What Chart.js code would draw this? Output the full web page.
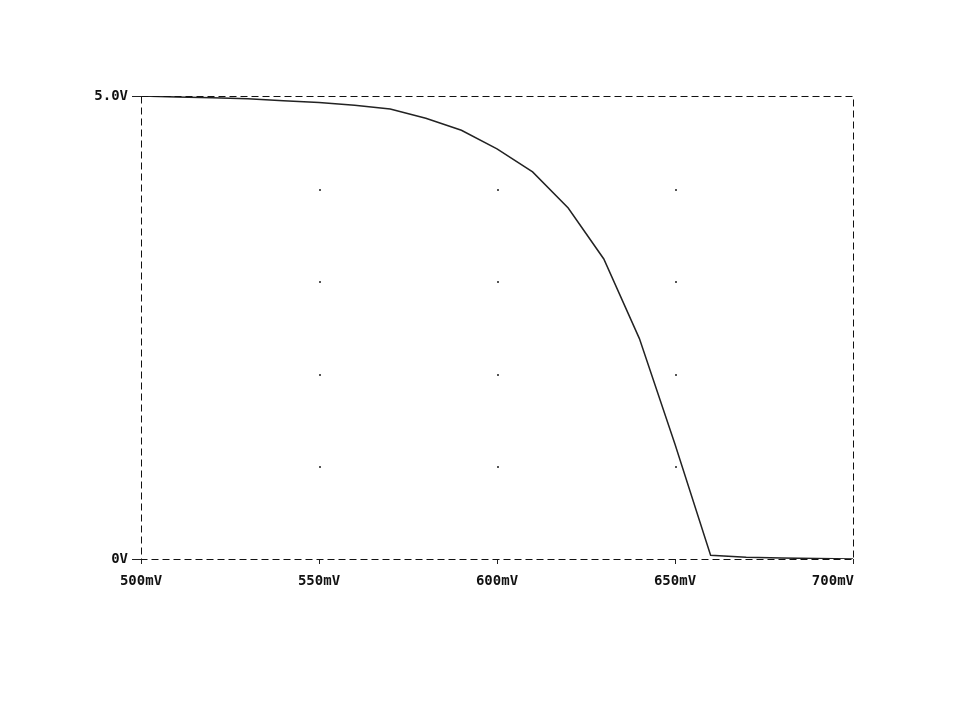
<!DOCTYPE html>
<html>
<head>
<meta charset="utf-8">
<script src="https://cdn.jsdelivr.net/npm/chart.js@4"></script>
<style>
  html, body { margin: 0; padding: 0; background: #fff; }
  #wrap { width: 960px; height: 720px; }
</style>
</head>
<body>
<div id="wrap"><canvas id="vout"></canvas></div>
<script>
// input voltage (mV) and output voltage (V)
const vin = [500, 510, 520, 530, 540, 550, 560, 570, 580, 590, 600, 610, 620, 630, 640, 650, 660, 670, 680, 690, 700];
const vout = [5.0, 4.99, 4.98, 4.97, 4.95, 4.93, 4.90, 4.86, 4.76, 4.63, 4.43, 4.18, 3.79, 3.24, 2.38, 1.24, 0.04, 0.02, 0.01, 0.005, 0.0];
const xTicks = [500, 550, 600, 650, 700];
const yLabels = { 0: '0V', 5: '5.0V' };

const font = { family: 'DejaVu Sans Mono', size: 14, weight: 'bold' };

// dashed frame, dotted grid at tick crossings, last x label pulled inside
const frame = {
  id: 'frame',
  afterDatasetsDraw(chart) {
    const { ctx, chartArea: a, scales } = chart;
    ctx.save();
    ctx.strokeStyle = '#111';
    ctx.lineWidth = 1;
    ctx.setLineDash([7, 4]);
    ctx.strokeRect(a.left + 0.5, a.top + 0.5, a.right - a.left, a.bottom - a.top);
    ctx.setLineDash([]);
    ctx.fillStyle = '#555';
    scales.x.ticks.forEach(tx => {
      if (tx.value <= 500 || tx.value >= 700) return;
      scales.y.ticks.forEach(ty => {
        if (ty.value <= 0 || ty.value >= 5) return;
        const px = scales.x.getPixelForValue(tx.value);
        const py = scales.y.getPixelForValue(ty.value);
        ctx.fillRect(Math.round(px), Math.round(py), 2, 2);
      });
    });
    const last = xTicks[xTicks.length - 1];
    ctx.font = 'bold 14px "DejaVu Sans Mono"';
    ctx.fillStyle = '#111';
    ctx.textAlign = 'right';
    ctx.textBaseline = 'top';
    ctx.fillText(last + 'mV', scales.x.getPixelForValue(last) + 1, a.bottom + 15);
    ctx.restore();
  }
};

new Chart(document.getElementById('vout'), {
  type: 'line',
  data: {
    datasets: [{
      data: vin.map((v, i) => ({ x: v, y: vout[i] })),
      borderColor: '#222',
      borderWidth: 1.5,
      pointRadius: 0,
      tension: 0,
      fill: false
    }]
  },
  options: {
    responsive: true,
    maintainAspectRatio: false,
    animation: false,
    layout: { padding: { top: 96, right: 107, left: 0, bottom: 0 } },
    plugins: { legend: { display: false }, tooltip: { enabled: false } },
    scales: {
      x: {
        type: 'linear',
        min: 500,
        max: 700,
        afterBuildTicks: s => { s.ticks = xTicks.map(v => ({ value: v })); },
        afterFit: s => { s.height = 161; },
        ticks: {
          color: '#111',
          font: font,
          padding: 9,
          maxRotation: 0,
          callback: v => (v === xTicks[xTicks.length - 1] ? '' : v + 'mV')
        },
        grid: { drawOnChartArea: false, drawTicks: true, tickLength: 5, color: '#222' },
        border: { display: false }
      },
      y: {
        min: 0,
        max: 5,
        afterFit: s => { s.width = 141; },
        ticks: {
          stepSize: 1,
          color: '#111',
          font: font,
          padding: 4,
          callback: v => yLabels[v] || ''
        },
        grid: {
          drawOnChartArea: false,
          drawTicks: true,
          tickLength: 9,
          color: c => (c.tick && yLabels[c.tick.value]) ? '#222' : 'rgba(0,0,0,0)'
        },
        border: { display: false }
      }
    }
  },
  plugins: [frame]
});
</script>
</body>
</html>
